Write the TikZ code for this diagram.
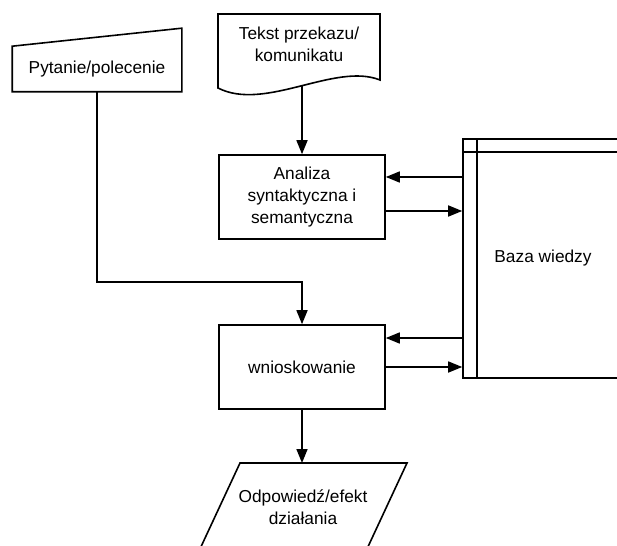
\documentclass[tikz,border=0pt]{standalone}
\usepackage{fontspec}
\setmainfont{Liberation Sans}
\usetikzlibrary{arrows.meta,calc}

\begin{document}
\begin{tikzpicture}[x=1pt,y=-1pt,>={Triangle[length=14pt,width=11pt]},line width=1.6pt,
 every node/.style={font=\fontsize{17.3}{22}\selectfont,inner sep=3pt,align=center},
 box/.style={draw,minimum width=166pt,minimum height=84pt}]
\path[use as bounding box,clip] (0,0) rectangle (617,545);
% boxes
\node[box] (analiza) at (302,197) {Analiza\\syntaktyczna i\\semantyczna};
\node[box] (wnio) at (302,367) {wnioskowanie};
\node[draw,minimum width=160pt,minimum height=239pt] (kb) at (543,258.5) {Baza wiedzy};
\draw ($(kb.north west)+(15,0)$) -- ($(kb.south west)+(15,0)$);
\draw ($(kb.north west)+(0,14)$) -- ($(kb.north east)+(0,14)$);
% input, document, output
\node[minimum width=168pt,minimum height=44pt] (pyt) at (97,69) {Pytanie/polecenie};
\draw (pyt.south west) -- (pyt.north west) -- ($(pyt.north east)+(0,-18)$) -- (pyt.south east) -- cycle;
\node (tekst) at (299,44) {Tekst przekazu/\\komunikatu};
\draw (218,88) -- (218,14) -- (380,14) -- (380,80) .. controls (335,62) and (265,112) .. (218,88) -- cycle;
\coordinate (tekstend) at (302,86);
\node (odp) at (303,507) {Odpowiedź/efekt\\działania};
\draw (240,463) -- (407,463) -- (366,551) -- (199,551) -- cycle;
\coordinate (odptop) at (302,463);
% connectors
\draw[->] (tekstend) -- (analiza.north);
\coordinate (a1) at ($(analiza.east)+(0,-20)$);
\coordinate (a2) at ($(analiza.east)+(0,14)$);
\draw[->] (a1 -| kb.west) -- (a1);
\draw[->] (a2) -- (a2 -| kb.west);
\coordinate (w1) at ($(wnio.east)+(0,-29)$);
\draw[->] (w1 -| kb.west) -- (w1);
\draw[->] (wnio.east) -- (wnio.east -| kb.west);
\coordinate (bend) at ($(wnio.north)+(0,-42)$);
\draw[->] (pyt.south) |- (bend) -- (wnio.north);
\draw[->] (wnio.south) -- (odptop);
\end{tikzpicture}
\end{document}
